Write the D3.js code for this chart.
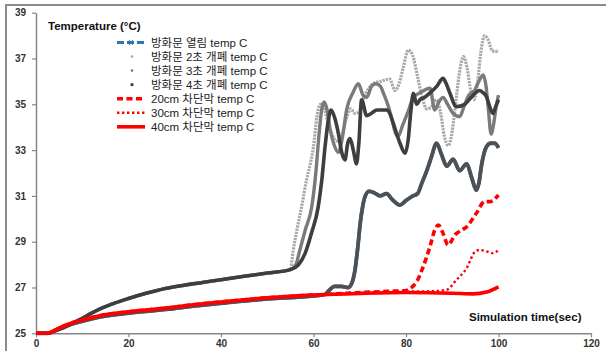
<!DOCTYPE html>
<html>
<head>
<meta charset="utf-8">
<script src="https://cdn.jsdelivr.net/npm/d3@7"></script>
<style>
  body { margin: 0; background: #fff; }
  svg { display: block; }
</style>
</head>
<body>
<div id="chart"></div>
<script>
(function() {
  'use strict';

  var width = 606, height = 351;

  // Axis ticks
  var xTicks = [0, 20, 40, 60, 80, 100, 120];
  var yTicks = [25, 27, 29, 31, 33, 35, 37, 39];

  // Shared early part of the curves [time, temp]
  var upperBase = [[0, 25], [2.5, 25], [4, 25.1], [6, 25.25], [8, 25.45], [10, 25.65], [12, 25.88],
    [14, 26.08], [17, 26.32], [20, 26.52], [24, 26.76], [28, 26.96], [32, 27.1], [36, 27.22],
    [40, 27.34], [45, 27.49], [50, 27.63], [55, 27.78]];
  var lowerBase = [[0, 25], [2.5, 25], [4, 25.13], [6, 25.32], [8, 25.47], [10, 25.58], [14, 25.78],
    [20, 25.94], [28, 26.1], [35, 26.27], [40, 26.37], [50, 26.55], [60, 26.67]];

  // 방화문 열림
  var openDoor = [[0, 25], [2.5, 25], [4, 25.1], [6, 25.28], [8, 25.42], [10, 25.53], [14, 25.72],
    [20, 25.88], [28, 26.04], [35, 26.21], [40, 26.31], [50, 26.5], [60, 26.63], [62.5, 26.7],
    [63.5, 26.9], [64.5, 27.05], [66, 27.05], [67.5, 27.0], [68.3, 27.2], [69, 27.8], [69.6, 28.8],
    [70.1, 29.8], [70.6, 30.5], [71.2, 31.0], [72, 31.2], [73, 31.15], [74.4, 31.0], [75.8, 31.1],
    [77, 30.85], [78.7, 30.6], [80, 30.8], [81.5, 31.0], [82.5, 31.1], [83.5, 31.6], [84.5, 32.1],
    [85.5, 32.7], [86.6, 33.3], [87.7, 32.8], [88.8, 32.3], [90.2, 32.6], [91.6, 32.1], [93.1, 32.4],
    [94.2, 31.8], [95.2, 31.25], [95.8, 31.6], [96.3, 32.3], [97.4, 33.15], [98.3, 33.3],
    [99.2, 33.3], [100, 33.1]];

  // 방화문 2초 개폐
  var close2s = upperBase.concat([[55.6, 28.6], [56.5, 29.6], [57.5, 30.6], [58.5, 31.7], [59.3, 32.4],
    [60, 33.15], [60.7, 34.4], [61.5, 35.0], [62.2, 34.9], [63, 34.3], [64, 33.7], [65, 33.4],
    [66, 33.6], [67, 34.3], [68, 34.8], [69, 34.6], [70, 34.7], [70.7, 35.2], [72, 35.7],
    [72.9, 35.9], [74.5, 36.0], [76.5, 36.1], [77.6, 35.6], [78.5, 35.9], [79.4, 36.6],
    [80.5, 37.37], [81.5, 37.1], [82.5, 36.2], [83.5, 35.3], [84.5, 34.8], [85.5, 34.9],
    [86.5, 35.2], [87.5, 34.6], [88.3, 33.6], [89.1, 33.2], [89.8, 33.6], [90.6, 34.8],
    [91.5, 36.3], [92.4, 37.08], [93.2, 36.6], [94, 35.6], [94.7, 35.2], [95.5, 36.0],
    [96.2, 37.3], [97, 38.0], [97.8, 37.8], [98.6, 37.35], [99.3, 37.3], [100, 37.37]]);

  // 방화문 3초 개폐
  var close3s = upperBase.concat([[56.2, 28.0], [57, 28.6], [58.2, 29.5], [59.6, 30.5], [60.5, 32.0],
    [61.2, 33.7], [61.8, 34.8], [62.3, 35.1], [63, 34.7], [63.6, 33.9], [64.5, 33.2], [65.4, 32.9],
    [66.2, 33.5], [67.2, 34.8], [68.5, 35.5], [69.7, 35.9], [70.7, 35.4], [71.5, 35.3],
    [72.6, 35.8], [73.5, 35.9], [74.4, 35.8], [75.3, 35.4], [76.2, 34.9], [77, 34.3],
    [77.8, 33.7], [78.3, 33.6], [79.3, 34.1], [80.3, 34.6], [81.6, 35.3], [83, 35.5],
    [85.2, 35.7], [86.2, 34.75], [87.1, 35.1], [88, 35.3], [89, 35.0], [90.2, 34.6],
    [91.6, 34.46], [92.7, 35.0], [93.6, 35.4], [94.8, 35.6], [96, 36.1], [96.7, 36.28],
    [97.3, 35.8], [97.8, 34.8], [98.4, 33.7], [99, 34.2], [99.5, 34.9], [100, 35.4]]);

  // 방화문 4초 개폐
  var close4s = upperBase.concat([[56.7, 27.98], [58.2, 28.5], [59.6, 29.4], [61, 30.5], [61.8, 31.7],
    [62.5, 33.15], [63.2, 34.3], [63.8, 34.75], [64.6, 34.4], [65.4, 33.7], [66.1, 32.9],
    [66.8, 32.57], [67.4, 33.3], [67.9, 33.5], [68.6, 33.0], [69.3, 32.4], [69.8, 33.3],
    [70.4, 35.2], [71.5, 34.5], [72.5, 34.6], [73.7, 34.75], [75.8, 34.75], [76.5, 34.6],
    [77.2, 34.2], [78.7, 33.3], [79.8, 32.86], [80.5, 33.5], [81, 34.6], [81.6, 35.48],
    [82.3, 35.0], [83, 35.2], [84, 35.3], [85.2, 35.5], [86.6, 35.77], [88, 36.13], [88.7, 35.9],
    [89.5, 35.48], [90.9, 34.9], [92.7, 35.0], [94.2, 35.33], [95.9, 35.6], [96.7, 35.5],
    [97.4, 35.33], [98.1, 34.9], [98.8, 34.6], [99.4, 34.9], [100, 35.2]]);

  // 차단막 series
  var curtain20 = lowerBase.concat([[70, 26.78], [76, 26.83], [80, 26.87], [81.5, 27.05], [82.3, 27.25],
    [83.7, 27.9], [85.2, 28.8], [86.2, 29.5], [87, 29.73], [88, 29.37], [89.1, 28.86], [90.6, 29.3],
    [92, 29.5], [93.1, 29.65], [95.2, 30.24], [97, 30.75], [98.1, 30.75], [100, 31.04]]);
  var curtain30 = lowerBase.concat([[70, 26.77], [80, 26.82], [86, 26.84], [88.8, 26.9], [90.9, 27.33],
    [93.1, 27.84], [94.9, 28.56], [95.9, 28.64], [97.7, 28.56], [98.8, 28.5], [100, 28.64]]);
  var curtain40 = lowerBase.concat([[70, 26.74], [80, 26.78], [90, 26.75], [94.5, 26.72],
    [97.4, 26.8], [100, 27.03]]);

  var legendNames = ['방화문 열림 temp C', '방화문 2초 개폐 temp C', '방화문 3초 개폐 temp C',
    '방화문 4초 개폐 temp C', '20cm 차단막 temp C', '30cm 차단막 temp C', '40cm 차단막 temp C'];

  var svg = d3.select('#chart').append('svg')
    .attr('width', width)
    .attr('height', height);

  // outer frame
  svg.append('rect')
    .attr('x', 6).attr('y', 5)
    .attr('width', 610).attr('height', 360)
    .attr('fill', 'none')
    .attr('stroke', '#8c8c8c')
    .attr('stroke-width', 2);

  var x = d3.scaleLinear().domain([0, 120]).range([36, 591]);
  var y = d3.scaleLinear().domain([25, 39]).range([333.3, 12.7]);

  var line = d3.line()
    .x(function(d) { return x(d[0]); })
    .y(function(d) { return y(d[1]); })
    .curve(d3.curveMonotoneX);

  // Axes
  var xAxis = svg.append('g')
    .attr('transform', 'translate(0,' + y(25) + ')')
    .call(d3.axisBottom(x).tickValues(xTicks).tickSize(4).tickPadding(3).tickSizeOuter(0));
  var yAxis = svg.append('g')
    .attr('transform', 'translate(' + x(0) + ',0)')
    .call(d3.axisLeft(y).tickValues(yTicks).tickSize(4).tickPadding(6).tickSizeOuter(0));

  [xAxis, yAxis].forEach(function(ax) {
    ax.select('.domain').attr('stroke', '#868686').attr('stroke-width', 1.5);
    ax.selectAll('.tick line').attr('stroke', '#868686').attr('stroke-width', 1.2);
    ax.selectAll('.tick text')
      .attr('fill', '#333')
      .style('font-family', '"Liberation Sans", Arial, sans-serif')
      .style('font-size', '10px')
      .style('font-weight', 'bold');
  });

  var g = svg.append('g');

  // open door: blue series mostly hidden under the dark overlay
  g.append('path').datum(openDoor)
    .attr('d', line).attr('fill', 'none')
    .attr('stroke', '#2e75b6').attr('stroke-width', 3.8);
  g.append('path').datum(openDoor)
    .attr('d', line).attr('fill', 'none')
    .attr('stroke', '#505050').attr('stroke-width', 3.6);

  var grayStyles = [
    { data: close2s, color: '#a8a8a8', w: 3.2, dash: '2.2,1' },
    { data: close3s, color: '#7a7a7a', w: 3.4, dash: null },
    { data: close4s, color: '#3e3e3e', w: 3.6, dash: null }
  ];
  grayStyles.forEach(function(s) {
    g.append('path').datum(s.data)
      .attr('d', line).attr('fill', 'none')
      .attr('stroke', s.color).attr('stroke-width', s.w)
      .attr('stroke-dasharray', s.dash);
  });

  var redStyles = [
    { data: curtain40, w: 3.6, dash: null },
    { data: curtain30, w: 2.4, dash: '2.4,2.6' },
    { data: curtain20, w: 3.6, dash: '6,3.5' }
  ];
  redStyles.forEach(function(s) {
    g.append('path').datum(s.data)
      .attr('d', line).attr('fill', 'none')
      .attr('stroke', '#ff0000').attr('stroke-width', s.w)
      .attr('stroke-dasharray', s.dash);
  });

  // Axis titles
  svg.append('text')
    .attr('x', 48).attr('y', 30)
    .attr('fill', '#111')
    .style('font-family', '"Liberation Sans", Arial, sans-serif')
    .style('font-size', '11.5px').style('font-weight', 'bold')
    .text('Temperature (°C)');
  svg.append('text')
    .attr('x', 469).attr('y', 321)
    .attr('fill', '#111')
    .style('font-family', '"Liberation Sans", Arial, sans-serif')
    .style('font-size', '11.5px').style('font-weight', 'bold')
    .text('Simulation time(sec)');

  // Legend
  var legend = svg.append('g');
  legendNames.forEach(function(name, i) {
    var ly = 42.5 + i * 14.05;
    var row = legend.append('g');
    if (i === 0) {
      row.append('line').attr('x1', 117).attr('x2', 145).attr('y1', ly).attr('y2', ly)
        .attr('stroke', '#2e75b6').attr('stroke-width', 3).attr('stroke-dasharray', '7,3');
      row.append('path').attr('d', 'M' + 129 + ',' + (ly - 2) + 'l4,4M' + 133 + ',' + (ly - 2) + 'l-4,4')
        .attr('stroke', '#2e75b6').attr('stroke-width', 1.2);
    } else if (i <= 3) {
      var cols = ['#a8a8a8', '#7a7a7a', '#3e3e3e'];
      row.append('circle').attr('cx', 132).attr('cy', ly).attr('r', i === 3 ? 1.6 : 1.3)
        .attr('fill', cols[i - 1]);
    } else {
      var st = redStyles[6 - i];
      row.append('line').attr('x1', 117).attr('x2', 145).attr('y1', ly).attr('y2', ly)
        .attr('stroke', '#ff0000').attr('stroke-width', st.w)
        .attr('stroke-dasharray', st.dash);
    }
    row.append('text')
      .attr('x', 151).attr('y', ly + 4)
      .attr('fill', '#222')
      .style('font-family', '"Liberation Sans", "Noto Sans CJK KR", sans-serif')
      .style('font-size', '11.5px')
      .text(name);
  });
})();
</script>
</body>
</html>
